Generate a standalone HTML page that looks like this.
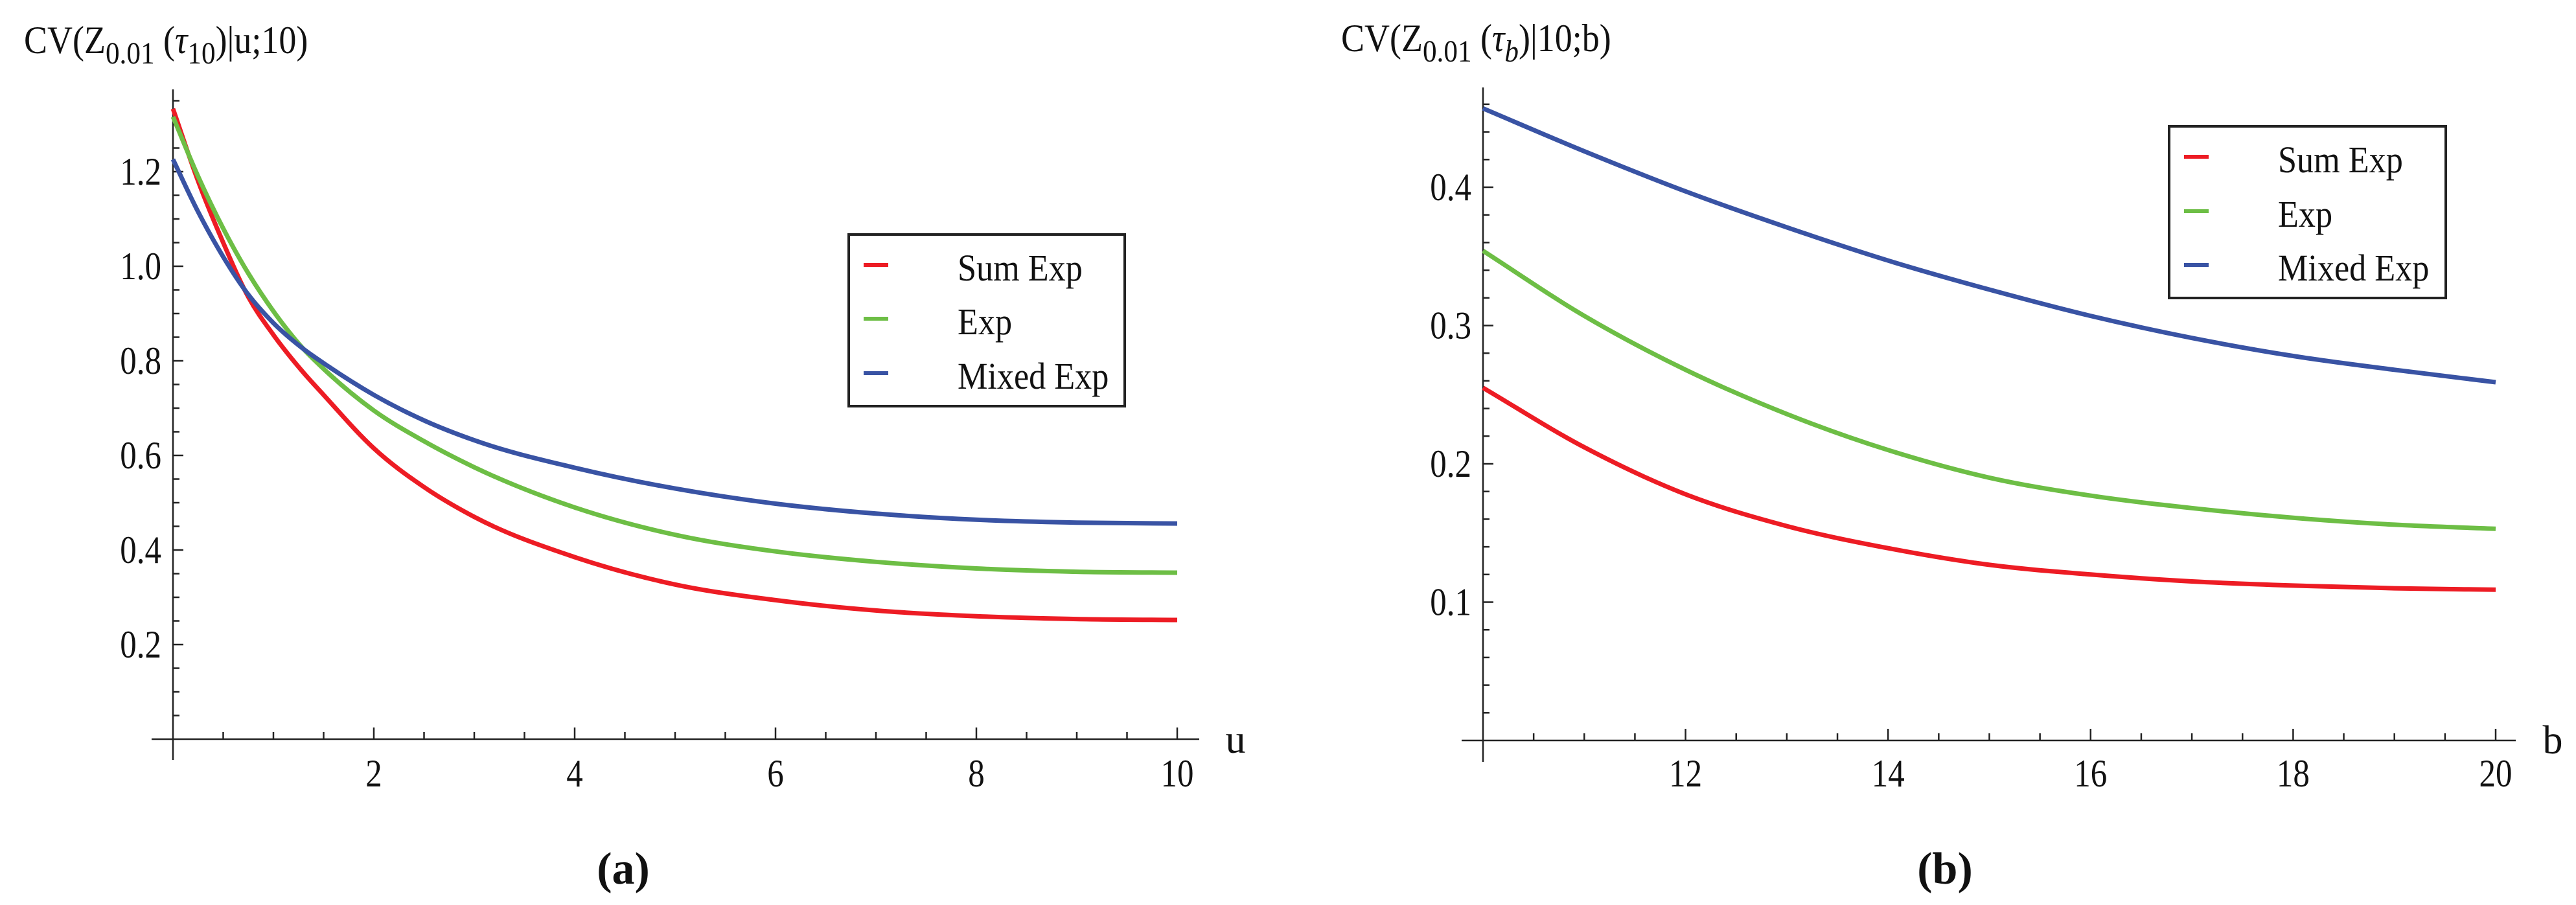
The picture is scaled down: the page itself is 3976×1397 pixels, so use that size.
<!DOCTYPE html>
<html><head><meta charset="utf-8"><style>
html,body{margin:0;padding:0;background:#fff;}
svg{display:block;}
</style></head><body>
<svg id="fig" width="3976" height="1397" viewBox="0 0 3976 1397" xmlns="http://www.w3.org/2000/svg" style="position:absolute;left:0;top:0">
<g id="pa"></g>
<g id="pb"></g>
<text transform="translate(37,82) scale(0.9,1)" font-size="60" style="font-family:'Liberation Serif',serif" fill="#111">CV(Z<tspan font-size="48" dy="16">0.01</tspan><tspan dy="-16"> (</tspan><tspan font-style="italic">τ</tspan><tspan font-size="48" dy="16">10</tspan><tspan dy="-16">)|u;10)</tspan></text>
<text transform="translate(2070,79) scale(0.9,1)" font-size="60" style="font-family:'Liberation Serif',serif" fill="#111">CV(Z<tspan font-size="48" dy="16">0.01</tspan><tspan dy="-16"> (</tspan><tspan font-style="italic">τ</tspan><tspan font-size="48" font-style="italic" dy="16">b</tspan><tspan dy="-16">)|10;b)</tspan></text>
<text x="1907" y="1162" font-size="62" text-anchor="middle" style="font-family:'Liberation Serif',serif" fill="#111">u</text>
<text x="3940" y="1163" font-size="62" text-anchor="middle" style="font-family:'Liberation Serif',serif" fill="#111">b</text>
<text x="962" y="1364" font-size="70" font-weight="bold" text-anchor="middle" style="font-family:'Liberation Serif',serif" fill="#111">(a)</text>
<text x="3002" y="1364" font-size="70" font-weight="bold" text-anchor="middle" style="font-family:'Liberation Serif',serif" fill="#111">(b)</text>
</svg>
<script>
// Panel (a) data
const uVals = [0,0.25,0.5,0.75,1,1.3,1.5,2,2.5,3,4,5,6,7,8,9,10];
const aSumExp = [1.333,1.18,1.05,0.935,0.855,0.775,0.728,0.615,0.533,0.47,0.385,0.327,0.294,0.272,0.26,0.254,0.252];
const aExp = [1.316,1.19,1.08,0.985,0.905,0.825,0.783,0.695,0.63,0.575,0.49,0.432,0.397,0.375,0.361,0.354,0.352];
const aMixedExp = [1.226,1.115,1.02,0.94,0.88,0.825,0.795,0.728,0.674,0.632,0.574,0.53,0.498,0.477,0.464,0.458,0.456];
const aXTicks = ["2","4","6","8","10"];
const aYTicks = ["0.2","0.4","0.6","0.8","1.0","1.2"];
// Panel (b) data
const bVals = [10,11,12,13,14,15,16,17,18,19,20];
const bSumExp = [0.255,0.212,0.178,0.155,0.139,0.127,0.12,0.115,0.112,0.110,0.109];
const bExp = [0.354,0.307,0.268,0.236,0.21,0.19,0.177,0.168,0.161,0.156,0.153];
const bMixedExp = [0.457,0.426,0.397,0.371,0.347,0.326,0.307,0.291,0.278,0.268,0.259];
const bXTicks = ["12","14","16","18","20"];
const bYTicks = ["0.1","0.2","0.3","0.4"];
const seriesNames = ["Sum Exp","Exp","Mixed Exp"];

const NS="http://www.w3.org/2000/svg";
const COLORS=["#ed1c24","#6dbe45","#3953a4"];
function mk(parent,tag,attrs){const e=document.createElementNS(NS,tag);for(const k in attrs)e.setAttribute(k,attrs[k]);parent.appendChild(e);return e;}
function txt(parent,x,y,s,size,anchor,sx){
  const t=mk(parent,"text",{transform:`translate(${x},${y}) scale(${sx},1)`,"font-size":size,"text-anchor":anchor,fill:"#111",style:"font-family:'Liberation Serif',serif"});
  t.textContent=s;return t;}
function smoothPath(pts){
  const n=pts.length, m=[];
  for(let i=0;i<n;i++){
    if(i===0) m.push((pts[1][1]-pts[0][1])/(pts[1][0]-pts[0][0]));
    else if(i===n-1) m.push((pts[n-1][1]-pts[n-2][1])/(pts[n-1][0]-pts[n-2][0]));
    else {
      const d0=(pts[i][1]-pts[i-1][1])/(pts[i][0]-pts[i-1][0]);
      const d1=(pts[i+1][1]-pts[i][1])/(pts[i+1][0]-pts[i][0]);
      const h0=pts[i][0]-pts[i-1][0], h1=pts[i+1][0]-pts[i][0];
      m.push((d0*h1+d1*h0)/(h0+h1));
    }
  }
  let d=`M${pts[0][0].toFixed(1)},${pts[0][1].toFixed(1)}`;
  for(let i=0;i<n-1;i++){
    const h=(pts[i+1][0]-pts[i][0])/3;
    d+=` C${(pts[i][0]+h).toFixed(1)},${(pts[i][1]+m[i]*h).toFixed(1)} ${(pts[i+1][0]-h).toFixed(1)},${(pts[i+1][1]-m[i+1]*h).toFixed(1)} ${pts[i+1][0].toFixed(1)},${pts[i+1][1].toFixed(1)}`;
  }
  return d;}

function panel(g,cfg){
  const X=v=>cfg.x0+(v-cfg.xmin)*cfg.xs;
  const Y=v=>cfg.y0-v*cfg.ys;
  const ax=mk(g,"g",{stroke:"#222","stroke-width":2.5});
  
  
  const xl=mk(ax,"line",{x1:cfg.xa0,y1:cfg.y0,x2:cfg.xa1,y2:cfg.y0});
  
  
  const yl=mk(ax,"line",{x1:cfg.x0,y1:cfg.ya0,x2:cfg.x0,y2:cfg.ya1});
  
  
  for(let v=cfg.xmin+0.5;v<=cfg.xmax+1e-6;v+=0.5){
    const major=Math.abs(v-Math.round(v/2)*2)<1e-6;
    mk(ax,"line",{x1:X(v),y1:cfg.y0,x2:X(v),y2:cfg.y0-(major?18:11)});
  }
  for(let k=1;k*cfg.ystep<=cfg.ymax+1e-6;k++){
    const v=k*cfg.ystep;
    const major=Math.abs(v/cfg.ymaj-Math.round(v/cfg.ymaj))<1e-6;
    mk(ax,"line",{x1:cfg.x0,y1:Y(v),x2:cfg.x0+(major?16:10),y2:Y(v)});
  }
  cfg.xticks.forEach(s=>{const t=txt(g,X(parseFloat(s)),1214,s,60,"middle",0.85);
    
    });
  cfg.yticks.forEach(s=>{const t=txt(g,cfg.x0-18,Y(parseFloat(s))+20,s,60,"end",0.85);
    
    });
  cfg.series.forEach((arr,i)=>{
    const pts=arr.map((v,j)=>[X(cfg.xs_vals[j]),Y(v)]);
    const p=mk(g,"path",{d:smoothPath(pts),fill:"none",stroke:COLORS[i],"stroke-width":7,"stroke-linejoin":"round"});
    
    
  });
  const lg=mk(g,"g",{});
  
  
  mk(lg,"rect",{x:cfg.lx,y:cfg.ly,width:cfg.lw,height:cfg.lh,fill:"#fff",stroke:"#222","stroke-width":4});
  seriesNames.forEach((n,i)=>{
    const e=mk(lg,"g",{});
    
    
    mk(e,"line",{x1:cfg.lx+23,x2:cfg.lx+61,y1:cfg.lrow[i],y2:cfg.lrow[i],stroke:COLORS[i],"stroke-width":6});
    txt(e,cfg.lx+168,cfg.lrow[i]+24,n,58,"start",0.9);
  });
}

panel(document.getElementById("pa"),{x0:267,xmin:0,xmax:10,xs:155,y0:1141,ys:730,ymax:1.35,ystep:0.05,ymaj:0.2,
  xa0:234,xa1:1851,ya0:138,ya1:1173,xticks:aXTicks,yticks:aYTicks,xs_vals:uVals,
  series:[aSumExp,aExp,aMixedExp],lx:1310,ly:362,lw:426,lh:265,lrow:[409,492,576]});
panel(document.getElementById("pb"),{x0:2289,xmin:10,xmax:20,xs:156.3,y0:1143,ys:2135,ymax:0.47,ystep:0.02,ymaj:0.1,
  xa0:2256,xa1:3883,ya0:135,ya1:1176,xticks:bXTicks,yticks:bYTicks,xs_vals:bVals,
  series:[bSumExp,bExp,bMixedExp],lx:3348,ly:195,lw:427,lh:265,lrow:[242,326,409]});
</script>
</body></html>
